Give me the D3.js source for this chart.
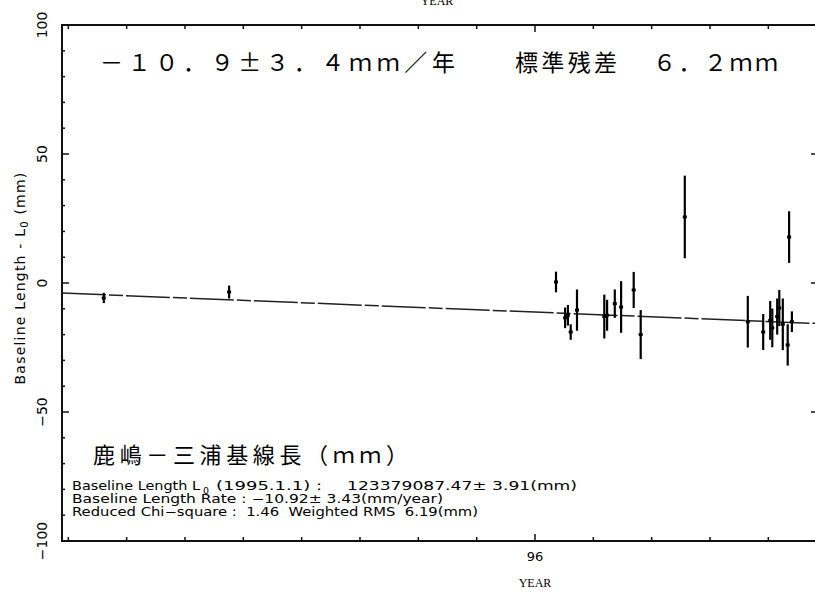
<!DOCTYPE html>
<html>
<head>
<meta charset="utf-8">
<script src="https://cdn.jsdelivr.net/npm/d3@7"></script>
<style>
  body { margin: 0; background: #fff; }
  svg { display: block; }
</style>
</head>
<body>
<div id="chart"></div>
<script>
// observation epochs (decimal year)
const dates = [1995.384, 1995.563, 1996.030, 1996.043, 1996.047, 1996.051, 1996.060,
  1996.099, 1996.103, 1996.114, 1996.123, 1996.141, 1996.151, 1996.214,
  1996.304, 1996.326, 1996.336, 1996.339, 1996.346, 1996.349, 1996.354,
  1996.361, 1996.363, 1996.367]
// baseline length - L0 (mm)
const values = [-5.8, -3.5, 0.4, -13.5, -12.5, -19, -10.5,
  -13, -12.5, -8, -9.3, -2.7, -20, 25.6,
  -15, -19, -14.5, -17.4, -13, -9.7, -16,
  -24, 17.8, -15]
// 1 sigma (mm)
const errors = [2, 2.5, 4, 4, 4, 3, 8,
  8.5, 6, 5.5, 10, 7, 9.5, 16,
  10, 7, 7.5, 7.5, 7, 7, 10,
  8, 10, 4]

const fitRate = -10.92     // mm/year
const fitOffset = -0.36    // mm at 1995.0
const yMajor = [100, 50, 0, -50, -100]
const yMinor = d3.range(-100, 101, 10)
const xMonths = d3.range(1995 + 4 / 12, 1996.41, 1 / 12)
const xLabels = [{ t: 1996, label: "96" }]

const W = 815, H = 597
const plot = { left: 62, top: 25, right: 815, bottom: 541 }

const svg = d3.select("#chart").append("svg")
  .attr("width", W).attr("height", H)
  .style("font-family", "'DejaVu Sans', 'Liberation Sans', sans-serif")

const x = d3.scaleLinear()
  .domain([1995.3243, 1996.4])
  .range([plot.left, plot.right])
const y = d3.scaleLinear()
  .domain([-100, 100])
  .range([plot.bottom, plot.top])

// frame
svg.append("path")
  .attr("d", `M${plot.right},${plot.top}H${plot.left}V${plot.bottom}H${plot.right}`)
  .attr("fill", "none").attr("stroke", "#111").attr("stroke-width", 2)

// y ticks (inward) left + right
const tickG = svg.append("g").attr("stroke", "#111").attr("stroke-width", 1.5)
yMinor.forEach(v => {
  const len = yMajor.includes(v) ? 7 : 3
  tickG.append("line")
    .attr("x1", plot.left).attr("x2", plot.left + len)
    .attr("y1", y(v)).attr("y2", y(v))
  if (yMajor.includes(v)) {
    tickG.append("line")
      .attr("x1", plot.right).attr("x2", plot.right - 4)
      .attr("y1", y(v)).attr("y2", y(v))
  }
})
// x ticks top + bottom (monthly)
xMonths.forEach(t => {
  const major = Math.abs(t - 1996) < 1e-6
  const len = major ? 7 : 4
  tickG.append("line")
    .attr("x1", x(t)).attr("x2", x(t))
    .attr("y1", plot.bottom).attr("y2", plot.bottom - len)
  tickG.append("line")
    .attr("x1", x(t)).attr("x2", x(t))
    .attr("y1", plot.top).attr("y2", plot.top + len)
})

// y tick labels rotated
yMajor.forEach(v => {
  svg.append("text")
    .attr("transform", `translate(47,${y(v)}) rotate(-90)`)
    .attr("text-anchor", "middle")
    .attr("font-size", 14)
    .text(v === 0 ? "0" : (v < 0 ? "\u2212" + Math.abs(v) : v))
})

// x tick labels
xLabels.forEach(d => {
  svg.append("text")
    .attr("x", x(d.t)).attr("y", 561)
    .attr("text-anchor", "middle")
    .attr("font-size", 13)
    .text(d.label)
})

// axis titles
svg.append("text")
  .attr("x", 535).attr("y", 587)
  .attr("text-anchor", "middle")
  .attr("font-family", "'Liberation Serif', 'DejaVu Serif', serif")
  .attr("font-size", 12)
  .text("YEAR")
svg.append("text")
  .attr("x", 437).attr("y", 5)
  .attr("text-anchor", "middle")
  .attr("font-family", "'Liberation Serif', 'DejaVu Serif', serif")
  .attr("font-size", 12)
  .text("YEAR")

const yTitle = svg.append("text")
  .attr("transform", `translate(25,278) rotate(-90)`)
  .attr("text-anchor", "middle")
  .attr("font-size", 14)
  .attr("letter-spacing", 1.2)
yTitle.append("tspan").text("Baseline Length - L")
yTitle.append("tspan").attr("font-size", 10).attr("dy", 3).text("0")
yTitle.append("tspan").attr("dy", -3).text(" (mm)")

// fit line
svg.append("line")
  .attr("x1", x(x.domain()[0])).attr("x2", x(x.domain()[1]))
  .attr("y1", y(fitRate * (x.domain()[0] - 1995) + fitOffset))
  .attr("y2", y(fitRate * (x.domain()[1] - 1995) + fitOffset))
  .attr("stroke", "#222").attr("stroke-width", 1.5)
  .attr("stroke-dasharray", "44 3 14 3")

// error bars and points
const pts = dates.map((t, i) => ({ t, v: values[i], e: errors[i] }))
const pg = svg.append("g")
pg.selectAll("line.err").data(pts).join("line")
  .attr("class", "err")
  .attr("x1", d => x(d.t)).attr("x2", d => x(d.t))
  .attr("y1", d => y(d.v + d.e)).attr("y2", d => y(d.v - d.e))
  .attr("stroke", "#000").attr("stroke-width", 2.2)
pg.selectAll("rect").data(pts).join("rect")
  .attr("x", d => x(d.t) - 2).attr("y", d => y(d.v) - 1.5)
  .attr("width", 4).attr("height", 3)
  .attr("fill", "#000")

// Japanese annotations
const jp = "'Noto Sans CJK JP', sans-serif"
const ann = [
  { text: "－１０．９±３．４ｍｍ／年", x: 100, w: 355, y: 71, size: 23 },
  { text: "標準残差", x: 515, w: 102, y: 71, size: 23 },
  { text: "６．２ｍｍ", x: 653, w: 125, y: 71, size: 23 },
  { text: "鹿嶋－三浦基線長（ｍｍ）", x: 93, w: 315, y: 463, size: 22 }
]
ann.forEach(a => {
  svg.append("text")
    .attr("x", a.x).attr("y", a.y)
    .attr("font-family", jp)
    .attr("font-size", a.size)
    .attr("textLength", a.w)
    .attr("lengthAdjust", "spacing")
    .text(a.text)
})

// statistics block
const stats = [
  { text: "Baseline Length L", x: 72, w: 128, y: 490 },
  { text: "0", x: 203, w: 6, y: 494, size: 9 },
  { text: "(1995.1.1) :", x: 216, w: 106, y: 490 },
  { text: "123379087.47± 3.91(mm)", x: 347, w: 230, y: 490 },
  { text: "Baseline Length Rate : −10.92± 3.43(mm/year)", x: 72, w: 371, y: 503 },
  { text: "Reduced Chi−square :  1.46  Weighted RMS  6.19(mm)", x: 72, w: 406, y: 516 }
]
stats.forEach(s => {
  svg.append("text")
    .attr("x", s.x).attr("y", s.y)
    .attr("font-size", s.size || 12)
    .attr("textLength", s.w)
    .attr("lengthAdjust", "spacingAndGlyphs")
    .attr("xml:space", "preserve")
    .style("white-space", "pre")
    .text(s.text)
})
</script>
</body>
</html>
